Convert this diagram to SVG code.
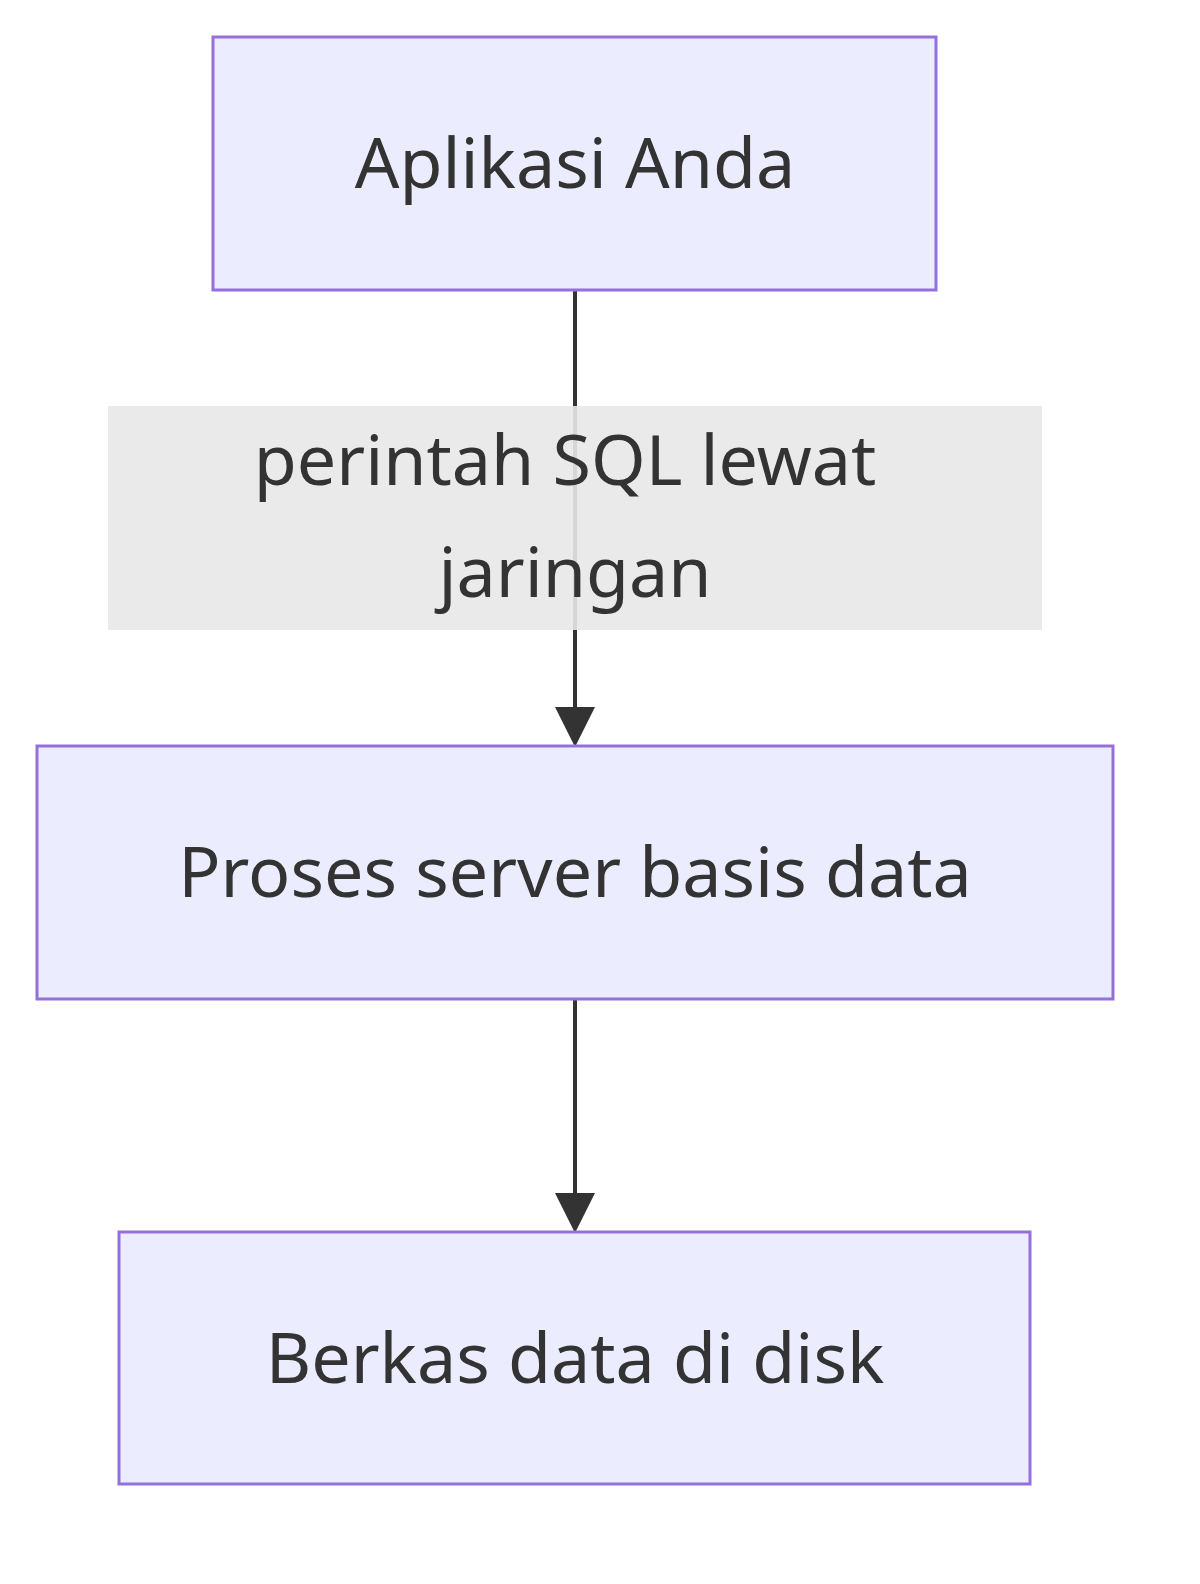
<svg xmlns="http://www.w3.org/2000/svg" width="1200" height="1584" viewBox="0 0 1200 1584">
<style>
.n{fill:#ECECFF;stroke:#9370DB;stroke-width:3}
.t{font-family:"Noto Sans","Open Sans",sans-serif;font-size:70px;fill:#333;text-anchor:middle}
.e{stroke:#333;stroke-width:4;fill:none}
</style>
<defs><marker id="a" viewBox="0 0 10 10" refX="10" refY="5" markerWidth="9" markerHeight="9" markerUnits="userSpaceOnUse" orient="auto"><path d="M0,0L10,5L0,10z" fill="#333" transform="scale(1)"/></marker>
<marker id="b" viewBox="0 0 10 10" refX="9" refY="5" markerWidth="10" markerHeight="10" orient="auto"><path d="M0,0L10,5L0,10z" fill="#333"/></marker></defs>
<rect width="1200" height="1584" fill="#fff"/>
<g id="edges">
<line class="e" x1="575" y1="290" x2="575" y2="743" marker-end="url(#b)"/>
<line class="e" x1="575" y1="999" x2="575" y2="1229" marker-end="url(#b)"/>
<g id="label"><rect x="108" y="406" width="934" height="224" fill="#e8e8e8" opacity="0.9"/>
<text class="t" x="565" y="485">perintah SQL lewat</text>
<text class="t" x="575" y="597">jaringan</text></g>
</g>
<g id="n1"><rect class="n" x="213" y="37" width="723" height="253"/><text class="t" x="575" y="188">Aplikasi Anda</text></g>
<g id="n2"><rect class="n" x="37" y="746" width="1076" height="253"/><text class="t" x="575" y="897">Proses server basis data</text></g>
<g id="n3"><rect class="n" x="119" y="1232" width="911" height="252"/><text class="t" x="575" y="1383">Berkas data di disk</text></g>
</svg>
